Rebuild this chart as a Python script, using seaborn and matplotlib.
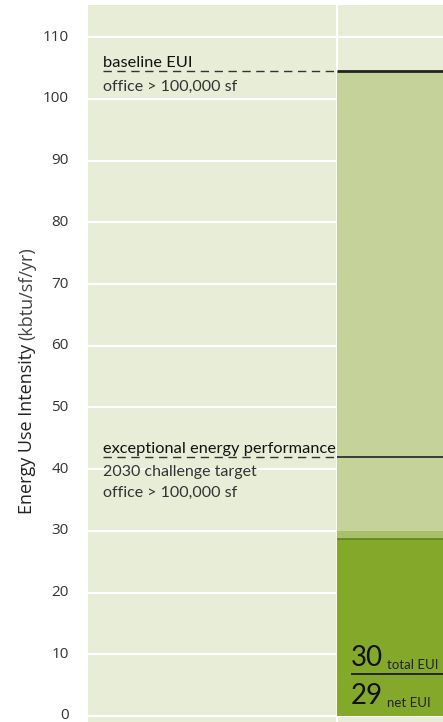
import pandas as pd
import seaborn as sns
import matplotlib.pyplot as plt
from matplotlib.transforms import ScaledTranslation

# Datos del gráfico
proyecto = "project"
capas = ["baseline EUI", "total EUI", "net EUI"]
valores = [104.6, 30.0, 28.7]
colores = ["#c5d39b", "#a9c06a", "#84a92a"]
meta_2030 = 42.0
etiqueta_total = "30"
etiqueta_neta = "29"
ticks_y = list(range(0, 120, 10))

sns.set_theme(style="whitegrid", rc={"axes.facecolor": "#e8edd8"})
plt.rcParams["font.family"] = ["Open Sans", "DejaVu Sans"]

fig = plt.figure(figsize=(4.43, 7.22), dpi=100)
ax = fig.add_axes([88 / 443, (722 - 740) / 722, 355 / 443, 735 / 722])

# Barras superpuestas (la mayor primero)
for capa, valor, color in zip(capas, valores, colores):
    df = pd.DataFrame({"x": [proyecto], "y": [valor]})
    sns.barplot(data=df, x="x", y="y", color=color, saturation=1, width=1.0,
                linewidth=0, ax=ax)

x_izq = -1.5
x_der = -0.5 + 106 / 249
ax.set_xlim(x_izq, x_der)
ax.set_ylim(-3.89, 115.23)

ax.set_axisbelow(True)
ax.grid(True, color="white", linewidth=1.5)
ax.set_xticks([-0.5])
ax.set_xticklabels([])
ax.set_yticks(ticks_y)
ax.tick_params(axis="y", length=0, pad=14, labelsize=11, labelcolor="#333333")
ax.tick_params(axis="x", length=0)
for lbl in ax.get_yticklabels():
    lbl.set_transform(lbl.get_transform() + ScaledTranslation(0, 2 / 100, fig.dpi_scale_trans))
for s in ax.spines.values():
    s.set_visible(False)
ax.set_xlabel("")
ax.set_ylabel("")

# Líneas de referencia
x_texto = x_izq + 15 / 249
for valor, lw in [(valores[0], 2.0), (meta_2030, 1.2)]:
    ax.hlines(valor, x_texto, -0.5, colors="#333333", linestyles=(0, (6, 4)), linewidth=1.0)
    ax.hlines(valor, -0.5, x_der, colors="#222222", linewidth=lw)
ax.hlines(valores[2], -0.5, x_der, colors="#5f8420", linewidth=1.2)

fuente = ["Lato", "DejaVu Sans"]
ax.text(x_texto, valores[0] + 0.6, "baseline EUI", fontsize=11.8, color="#111111",
        va="baseline", family=fuente)
ax.text(x_texto, 101.3, "office > 100,000 sf", fontsize=11.5, color="#333333",
        va="baseline", family=fuente)
ax.text(x_texto, meta_2030 + 0.6, "exceptional energy performance", fontsize=11.8,
        color="#111111", va="baseline", family=fuente)
ax.text(x_texto, 38.9, "2030 challenge target", fontsize=11.5, color="#333333",
        va="baseline", family=fuente)
ax.text(x_texto, 35.5, "office > 100,000 sf", fontsize=11.5, color="#333333",
        va="baseline", family=fuente)

# Etiquetas de valores dentro de la barra
x_num = -0.5 + 14 / 249
t30 = ax.text(x_num, 8.1, etiqueta_total, fontsize=20, color="#111111", va="baseline", family=fuente)
ax.annotate("total EUI", xy=(1, 0), xycoords=t30, xytext=(3, 0), textcoords="offset points",
            fontsize=9.5, color="#222222", va="bottom", family=fuente)
t29 = ax.text(x_num, 1.9, etiqueta_neta, fontsize=20, color="#111111", va="baseline", family=fuente)
ax.annotate("net EUI", xy=(1, 0), xycoords=t29, xytext=(3, 0), textcoords="offset points",
            fontsize=9.5, color="#222222", va="bottom", family=fuente)
ax.hlines(6.8, x_num, x_der, colors="#111111", linewidth=1.2)

# Etiqueta del eje y en dos partes
t1 = fig.text(27 / 443, 1 - 514 / 722, "Energy Use Intensity", rotation=90, fontsize=13,
              color="#222222", ha="center", va="bottom")
fig.canvas.draw()
ax.annotate("(kbtu/sf/yr)", xy=(0.5, 1), xycoords=t1, xytext=(0, 3), textcoords="offset points",
            rotation=90, fontsize=13, color="#444444", ha="center", va="bottom")

fig.savefig("out.png", dpi=100)
